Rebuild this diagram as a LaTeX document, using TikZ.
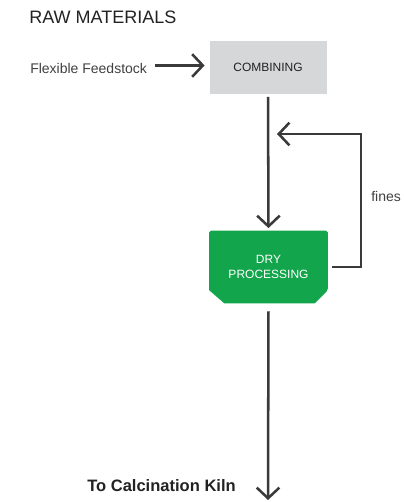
\documentclass[tikz,border=0pt]{standalone}
\usepackage{fontspec}
\setmainfont{Liberation Sans}
\usetikzlibrary{arrows.meta,calc,backgrounds}
\definecolor{boxgray}{HTML}{D5D7D9}
\definecolor{procgreen}{HTML}{12A54B}
\definecolor{linegray}{HTML}{3A3A3A}
\definecolor{textdark}{HTML}{222222}
\tikzset{
  flow/.style={draw=linegray, line width=1.9pt,
    -{Straight Barb[length=8pt,width=17pt,line width=1.9pt]}},
  label text/.style={inner sep=0pt, text=textdark},
  stagebox/.style={minimum width=117*0.75pt, minimum height=53*0.75pt,
    inner sep=0pt, fill=boxgray, text=textdark, font=\fontsize{9}{11}\selectfont},
  greenstage/.style={minimum width=118*0.75pt, minimum height=72*0.75pt,
    inner sep=0pt, text=white, align=center, font=\fontsize{9}{11.25}\selectfont},
}
\begin{document}
\begin{tikzpicture}[x=0.75pt, y=-0.75pt]
  \useasboundingbox (0,0) rectangle (403,502);

  % headings and free labels
  \node[label text, anchor=base west, font=\fontsize{13.5}{16}\selectfont] (title) at (29,23.5) {RAW MATERIALS};
  \node[label text, anchor=base west, text=black!75, font=\fontsize{10.5}{13}\selectfont] (feed) at (30,74) {Flexible Feedstock};
  \node[label text, anchor=base west, text=black!75, font=\fontsize{10.5}{13}\selectfont] (fines) at (371,201) {fines};
  \node[label text, anchor=base west, font=\bfseries\fontsize{12.4}{15}\selectfont] (kiln) at (87,491) {To Calcination Kiln};

  % process stages
  \node[stagebox] (comb) at (268,67.5) {COMBINING};
  \node[greenstage] (dry) at (268.5,267) {DRY\\PROCESSING};
  \begin{scope}[on background layer]
    \fill[procgreen, rounded corners=1.2pt]
      (dry.north west) -- (dry.north east) -- ($(dry.south east)+(0,-13)$)
      [sharp corners] -- ($(dry.south east)+(-13,0)$) -- ($(dry.south west)+(15,0)$)
      -- ($(dry.south west)+(0,-13)$) [rounded corners=1.2pt] -- cycle;
  \end{scope}

  % free ends of connectors
  \coordinate (loopR) at (361,134);
  \coordinate (loopEnd) at (277,134);
  \coordinate (kilnEnd) at (268,500);

  % connectors
  \draw[flow, shorten <=6pt, shorten >=3.5pt] ($(feed.east)+(0,-3.5)$) -- (comb.west |- {$(feed.east)+(0,-3.5)$});
  \draw[flow, shorten <=2pt, shorten >=2pt] (comb.south) -- (dry.north);
  \draw[flow, shorten <=3pt] (dry.east) -| (loopR) -- (loopEnd);
  \draw[flow, shorten <=6pt] (dry.south) -- (kilnEnd);
\end{tikzpicture}
\end{document}
